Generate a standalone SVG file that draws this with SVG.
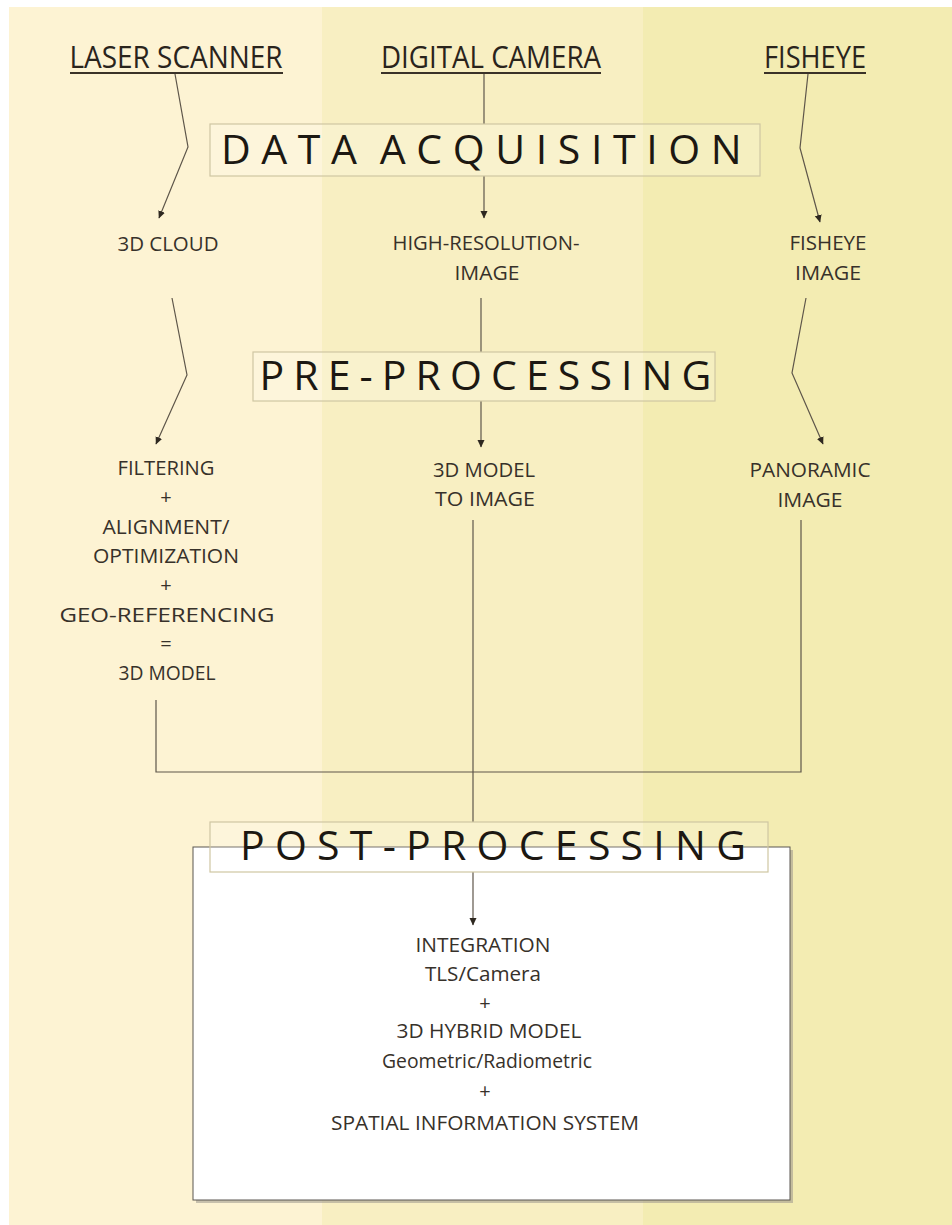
<svg xmlns="http://www.w3.org/2000/svg" width="952" height="1225" viewBox="0 0 952 1225">
<style>
.src{font-family:"Open Sans","Liberation Sans",sans-serif;font-size:31px;fill:#2a241c;text-anchor:middle}
.ul{stroke:#3a3228;stroke-width:2}
.stage{font-family:"Open Sans","Liberation Sans",sans-serif;font-size:41px;fill:#1c1812}
.sbox{fill:#ffffff;fill-opacity:0.18;stroke:#cfc6a2;stroke-width:1.2}
.lbl{font-family:"Open Sans","Liberation Sans",sans-serif;font-size:20px;font-weight:500;fill:#37312a;text-anchor:middle}
.con{fill:none;stroke:#5e564a;stroke-width:1.2}
</style>
<defs>
<marker id="ah" markerWidth="8" markerHeight="8" refX="7" refY="4" orient="auto" markerUnits="userSpaceOnUse">
<path d="M0,0.5 L7.5,4 L0,7.5 z" fill="#2e2820"/>
</marker>
</defs>
<rect x="0" y="0" width="952" height="1225" fill="#ffffff"/>
<rect x="9" y="7" width="313" height="1218" fill="#fdf3d3"/>
<rect x="322" y="7" width="321" height="1218" fill="#f8efc2"/>
<rect x="643" y="7" width="309" height="1218" fill="#f3ecb2"/>

<g id="connectors">
<polyline class="con" points="175,74 188,147 159,218" marker-end="url(#ah)"/>
<line class="con" x1="484" y1="74" x2="484" y2="124"/>
<line class="con" x1="484" y1="176" x2="484" y2="218" marker-end="url(#ah)"/>
<polyline class="con" points="808,74 800,148 820,222" marker-end="url(#ah)"/>
<polyline class="con" points="172,298 187,375 156,444" marker-end="url(#ah)"/>
<line class="con" x1="481" y1="298" x2="481" y2="352"/>
<line class="con" x1="481" y1="401" x2="481" y2="447" marker-end="url(#ah)"/>
<polyline class="con" points="806,298 792,373 823,444" marker-end="url(#ah)"/>
<polyline class="con" points="156,700 156,772 801,772 801,520"/>
<line class="con" x1="473" y1="520" x2="473" y2="822"/>
</g>

<g id="laser-scanner">
<text class="src" x="176" y="68" textLength="213" lengthAdjust="spacingAndGlyphs">LASER SCANNER</text>
<line class="ul" x1="70" y1="73" x2="283" y2="73"/>
</g>
<g id="digital-camera">
<text class="src" x="491" y="68" textLength="220" lengthAdjust="spacingAndGlyphs">DIGITAL CAMERA</text>
<line class="ul" x1="381" y1="73" x2="601" y2="73"/>
</g>
<g id="fisheye">
<text class="src" x="815" y="68" textLength="102" lengthAdjust="spacingAndGlyphs">FISHEYE</text>
<line class="ul" x1="764" y1="73" x2="866" y2="73"/>
</g>

<g id="data-acquisition">
<rect class="sbox" x="210" y="124" width="550" height="52"/>
<text class="stage" x="221" y="164" letter-spacing="10.6" word-spacing="-9">DATA ACQUISITION</text>
</g>

<g id="3d-cloud">
<text class="lbl" x="168" y="251" textLength="101" lengthAdjust="spacingAndGlyphs">3D CLOUD</text>
</g>
<g id="high-resolution-image">
<text class="lbl" x="486" y="250" textLength="187" lengthAdjust="spacingAndGlyphs">HIGH-RESOLUTION-</text>
<text class="lbl" x="487" y="280" textLength="65" lengthAdjust="spacingAndGlyphs">IMAGE</text>
</g>
<g id="fisheye-image">
<text class="lbl" x="828" y="250" textLength="77" lengthAdjust="spacingAndGlyphs">FISHEYE</text>
<text class="lbl" x="828" y="280" textLength="66" lengthAdjust="spacingAndGlyphs">IMAGE</text>
</g>

<g id="pre-processing">
<rect class="sbox" x="253" y="352" width="462" height="49"/>
<text class="stage" x="259.5" y="390" font-size="40" letter-spacing="9.1">PRE-PROCESSING</text>
</g>

<g id="filtering-3d-model">
<text class="lbl" x="166" y="475" textLength="97" lengthAdjust="spacingAndGlyphs">FILTERING</text>
<text class="lbl" x="166" y="504">+</text>
<text class="lbl" x="166" y="534" textLength="127" lengthAdjust="spacingAndGlyphs">ALIGNMENT/</text>
<text class="lbl" x="166" y="563" textLength="146" lengthAdjust="spacingAndGlyphs">OPTIMIZATION</text>
<text class="lbl" x="166" y="592">+</text>
<text class="lbl" x="167" y="622" textLength="215" lengthAdjust="spacingAndGlyphs">GEO-REFERENCING</text>
<text class="lbl" x="166" y="651">=</text>
<text class="lbl" x="167" y="680" textLength="97" lengthAdjust="spacingAndGlyphs">3D MODEL</text>
</g>
<g id="3d-model-to-image">
<text class="lbl" x="484" y="477" textLength="102" lengthAdjust="spacingAndGlyphs">3D MODEL</text>
<text class="lbl" x="485" y="506" textLength="100" lengthAdjust="spacingAndGlyphs">TO IMAGE</text>
</g>
<g id="panoramic-image">
<text class="lbl" x="810" y="477" textLength="121" lengthAdjust="spacingAndGlyphs">PANORAMIC</text>
<text class="lbl" x="810" y="507" textLength="65" lengthAdjust="spacingAndGlyphs">IMAGE</text>
</g>

<g id="post-processing">
<rect x="196" y="850" width="597" height="353" fill="#9a968c" fill-opacity="0.55"/>
<rect x="193" y="847" width="597" height="353" fill="#ffffff" stroke="#5a5650" stroke-width="1"/>
<line class="con" x1="473" y1="872" x2="473" y2="925" marker-end="url(#ah)"/>
<text class="lbl" x="483" y="952" textLength="135" lengthAdjust="spacingAndGlyphs">INTEGRATION</text>
<text class="lbl" x="483" y="981" textLength="116" lengthAdjust="spacingAndGlyphs">TLS/Camera</text>
<text class="lbl" x="485" y="1010">+</text>
<text class="lbl" x="489" y="1038" textLength="185" lengthAdjust="spacingAndGlyphs">3D HYBRID MODEL</text>
<text class="lbl" x="487" y="1068" textLength="210" lengthAdjust="spacingAndGlyphs">Geometric/Radiometric</text>
<text class="lbl" x="485" y="1098">+</text>
<text class="lbl" x="485" y="1130" textLength="308" lengthAdjust="spacingAndGlyphs">SPATIAL INFORMATION SYSTEM</text>
<rect class="sbox" x="210" y="822" width="558" height="50" fill-opacity="0.3"/>
<text class="stage" x="493" y="860" font-size="38" text-anchor="middle" textLength="506" lengthAdjust="spacing">POST-PROCESSING</text>
</g>
</svg>
